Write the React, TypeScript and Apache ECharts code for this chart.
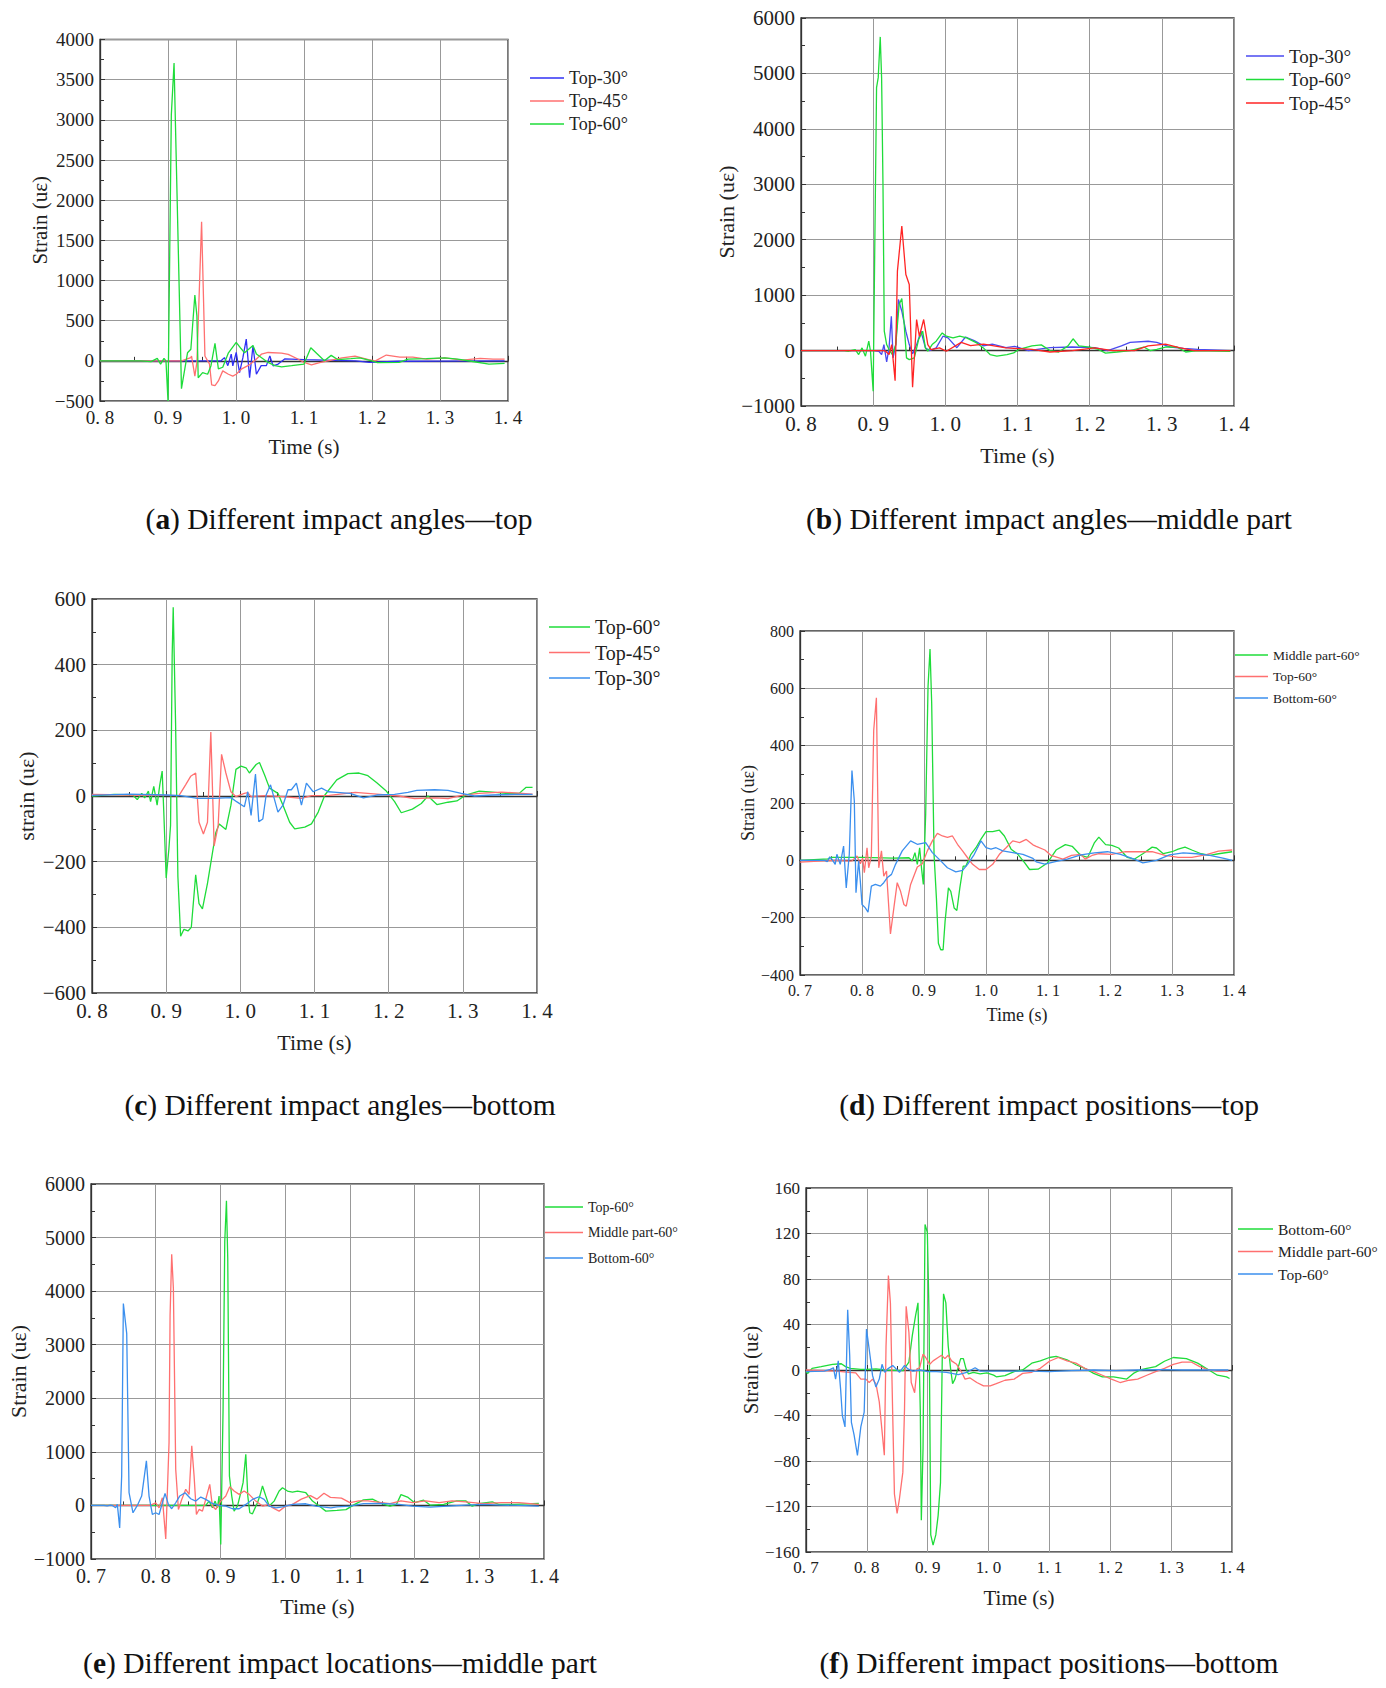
import { useEffect, useRef } from "react";
import * as echarts from "echarts";

type Pt = [number, number];

// (a) Different impact angles — top
const aTop30: Pt[] = [[0.8,0],[0.9,0],[0.978,0],[0.983,40],[0.988,-60],[0.993,83],[0.9953,-62],[1.0003,104],[1.0052,-146],[1.0102,42],[1.0151,270],[1.02,-210],[1.025,188],[1.03,-167],[1.037,-60],[1.0447,-60],[1.0497,62],[1.0546,-62],[1.062,-40],[1.072,25],[1.1,14],[1.176,0],[1.196,-18],[1.24,-5],[1.3,-3],[1.395,0]];
const aTop45: Pt[] = [[0.8,0],[0.92,0],[0.9336,40],[0.9346,60],[0.9395,-190],[0.9425,-20],[0.9494,1730],[0.9543,60],[0.9583,0],[0.961,-40],[0.9642,-300],[0.9691,-310],[0.9741,-250],[0.9805,-125],[0.9889,-167],[0.9953,-190],[1.0003,-167],[1.0077,-104],[1.0176,-60],[1.0274,0],[1.0373,83],[1.0472,104],[1.067,96],[1.0768,80],[1.0917,20],[1.1,-20],[1.111,-50],[1.123,-22],[1.156,36],[1.175,58],[1.195,14],[1.205,0],[1.221,72],[1.241,45],[1.26,45],[1.28,22],[1.307,36],[1.333,10],[1.359,30],[1.378,22],[1.395,22]];
const aTop60: Pt[] = [[0.8,0],[0.86,0],[0.875,-10],[0.8842,30],[0.8891,-40],[0.8941,30],[0.897,0],[0.9,-500],[0.9049,3063],[0.9089,3708],[0.9198,-346],[0.9287,100],[0.9336,145],[0.9395,820],[0.9425,560],[0.9444,-210],[0.9509,-146],[0.9583,-167],[0.9632,-60],[0.9691,217],[0.9741,-100],[0.9805,-80],[0.9889,100],[1.0003,230],[1.0077,150],[1.0126,100],[1.025,190],[1.03,85],[1.0472,-20],[1.0571,-60],[1.067,-75],[1.0818,-60],[1.1,-40],[1.11,162],[1.13,0],[1.14,68],[1.15,14],[1.169,27],[1.182,36],[1.2,0],[1.208,-22],[1.24,-18],[1.253,22],[1.28,27],[1.307,36],[1.326,22],[1.346,-5],[1.372,-40],[1.395,-31]];

// (b) Different impact angles — middle part
const bTop30: Pt[] = [[0.8,0],[0.88,0],[0.9009,0],[0.9079,-12],[0.9117,-72],[0.9149,108],[0.9187,-205],[0.922,48],[0.9252,620],[0.9276,-132],[0.9313,108],[0.935,921],[0.9397,710],[0.9453,349],[0.95,108],[0.9546,-60],[0.9602,108],[0.9663,349],[0.9724,48],[0.978,0],[0.9873,48],[0.9967,259],[1.0037,229],[1.016,52],[1.028,245],[1.04,180],[1.053,84],[1.065,116],[1.084,52],[1.096,77],[1.115,0],[1.145,52],[1.176,64],[1.207,52],[1.225,0],[1.244,84],[1.256,148],[1.281,168],[1.293,148],[1.312,64],[1.33,39],[1.35,20],[1.395,0]];
const bTop60: Pt[] = [[0.8,0],[0.86,0],[0.8659,-12],[0.8752,18],[0.8799,-72],[0.8846,48],[0.8893,-102],[0.8939,169],[0.8963,-12],[0.9,-734],[0.9047,4744],[0.907,4924],[0.9098,5659],[0.9117,4924],[0.9136,2998],[0.9154,349],[0.9187,108],[0.922,18],[0.9266,-72],[0.9313,108],[0.936,831],[0.9397,939],[0.943,470],[0.9462,-132],[0.95,-163],[0.957,-132],[0.963,199],[0.9686,349],[0.9724,48],[0.9757,-12],[0.9817,108],[0.9873,169],[0.9957,319],[1.0013,259],[1.0107,229],[1.02,259],[1.0294,229],[1.0434,138],[1.0527,48],[1.062,-72],[1.0714,-102],[1.0854,-72],[1.0947,-42],[1.102,20],[1.12,84],[1.133,103],[1.145,0],[1.157,-26],[1.17,84],[1.177,213],[1.185,84],[1.2,64],[1.212,20],[1.222,-45],[1.238,-26],[1.256,0],[1.275,64],[1.284,0],[1.293,20],[1.305,64],[1.321,64],[1.333,-26],[1.349,0],[1.395,-13]];
const bTop45: Pt[] = [[0.8,0],[0.915,0],[0.9173,-12],[0.922,-72],[0.9257,108],[0.9304,-542],[0.9336,1433],[0.9397,2245],[0.9453,1373],[0.95,1192],[0.9546,-662],[0.9602,560],[0.964,259],[0.97,560],[0.9757,108],[0.9803,18],[0.992,48],[1.0013,-12],[1.022,148],[1.035,90],[1.053,116],[1.084,50],[1.12,20],[1.145,-26],[1.176,0],[1.207,50],[1.232,0],[1.262,0],[1.281,84],[1.305,116],[1.324,52],[1.345,0],[1.395,0]];

// (c) Different impact angles — bottom
const cTop60: Pt[] = [[0.8,0],[0.83,5],[0.855,3],[0.861,-11],[0.867,8],[0.871,-6],[0.876,15],[0.879,-17],[0.8833,29],[0.8878,-28],[0.8914,34],[0.8946,76],[0.8968,-49],[0.9,-250],[0.9036,-163],[0.9059,-90],[0.9081,428],[0.9095,575],[0.9127,221],[0.9158,-245],[0.9195,-427],[0.924,-406],[0.9294,-411],[0.9339,-400],[0.9398,-240],[0.9443,-328],[0.9489,-344],[0.9557,-266],[0.9624,-173],[0.967,-111],[0.9715,-85],[0.9805,-102],[0.9873,-28],[0.9941,81],[1.0009,91],[1.0077,86],[1.0122,70],[1.0213,96],[1.0258,102],[1.0326,65],[1.0394,24],[1.0507,8],[1.0575,-28],[1.0665,-80],[1.0733,-100],[1.0869,-95],[1.0959,-85],[1.105,-49],[1.114,3],[1.13,49],[1.145,68],[1.16,70],[1.172,62],[1.184,40],[1.196,17],[1.208,-17],[1.217,-51],[1.232,-40],[1.244,-23],[1.253,0],[1.265,-26],[1.28,-19],[1.292,-15],[1.304,3],[1.322,15],[1.34,12],[1.358,8],[1.376,8],[1.385,26],[1.394,26]];
const cTop45: Pt[] = [[0.8,5],[0.85,3],[0.9,2],[0.9172,1],[0.9262,34],[0.933,60],[0.9398,70],[0.9443,-80],[0.9502,-116],[0.9557,-80],[0.9602,195],[0.9647,-152],[0.9701,-90],[0.9747,127],[0.9805,70],[0.9873,13],[0.9941,-2],[1.0054,8],[1.01,10],[1.0145,-2],[1.0326,1],[1.0575,-2],[1.0824,-7],[1.0959,1],[1.12,2],[1.155,11],[1.184,6],[1.214,0],[1.235,-8],[1.262,-6],[1.28,-8],[1.298,2],[1.322,8],[1.352,12],[1.38,8],[1.394,6]];
const cTop30: Pt[] = [[0.8,2],[0.85,6],[0.9,3],[0.9195,1],[0.9421,-7],[0.9647,-7],[0.9873,-5],[0.9955,-18],[1.0054,-33],[1.01,13],[1.0145,-59],[1.0204,67],[1.0249,-78],[1.0303,-70],[1.0348,3],[1.0407,34],[1.0462,-12],[1.0507,-49],[1.0575,-28],[1.0643,19],[1.0688,19],[1.0756,39],[1.0824,-28],[1.0891,39],[1.0982,13],[1.1095,24],[1.1186,13],[1.13,11],[1.148,8],[1.166,-6],[1.184,3],[1.208,5],[1.226,11],[1.238,17],[1.262,19],[1.28,17],[1.298,8],[1.316,0],[1.34,3],[1.37,5],[1.394,5]];

// (d) Different impact positions — top
const dMiddle60: Pt[] = [[0.7,0],[0.745,5],[0.75,10],[0.8,10],[0.85,8],[0.8757,9],[0.8811,-2],[0.8854,27],[0.8892,-14],[0.893,44],[0.8962,-32],[0.8989,-84],[0.9027,161],[0.9065,606],[0.9097,737],[0.9124,548],[0.9162,21],[0.92,-131],[0.9232,-289],[0.927,-312],[0.9308,-312],[0.934,-213],[0.9394,-96],[0.9432,-108],[0.9486,-166],[0.953,-175],[0.9578,-96],[0.9632,-20],[0.9676,-20],[0.9757,21],[0.9838,44],[0.9919,74],[1.0,100],[1.0108,100],[1.0216,105],[1.0297,85],[1.0405,39],[1.0514,21],[1.0622,-8],[1.0703,-32],[1.084,-31],[1.099,-9],[1.113,36],[1.128,55],[1.139,49],[1.153,17],[1.164,10],[1.175,62],[1.182,81],[1.193,55],[1.203,52],[1.214,43],[1.228,10],[1.239,4],[1.253,23],[1.268,46],[1.275,43],[1.286,23],[1.3,30],[1.31,39],[1.321,46],[1.332,36],[1.347,23],[1.361,17],[1.375,23],[1.397,30]];
const dTop60: Pt[] = [[0.7,-6],[0.73,-3],[0.76,0],[0.78,-3],[0.7838,-2],[0.7919,15],[0.7973,-12],[0.8011,7],[0.8038,-43],[0.8081,44],[0.8108,-26],[0.8151,15],[0.8189,454],[0.8232,567],[0.827,-26],[0.8314,33],[0.8351,-55],[0.8395,-37],[0.8459,-257],[0.8514,-166],[0.8568,-78],[0.8622,-108],[0.8676,-154],[0.8714,-160],[0.8784,-84],[0.8892,-23],[0.8973,-12],[0.9054,33],[0.9135,68],[0.9216,94],[0.9297,85],[0.9378,80],[0.9459,85],[0.954,56],[0.9622,33],[0.9703,9],[0.9784,-14],[0.9892,-32],[1.0,-32],[1.0108,-14],[1.0216,21],[1.0324,44],[1.0432,68],[1.0541,62],[1.0649,73],[1.0757,54],[1.081,49],[1.095,36],[1.105,17],[1.124,4],[1.138,17],[1.153,21],[1.16,4],[1.171,17],[1.182,23],[1.203,21],[1.225,30],[1.246,30],[1.268,30],[1.289,17],[1.31,10],[1.332,10],[1.354,19],[1.375,32],[1.397,36]];
const dBottom60: Pt[] = [[0.7,0],[0.74,0],[0.744,-5],[0.748,12],[0.7514,4],[0.7568,-14],[0.7595,21],[0.7649,-14],[0.7703,50],[0.7746,-96],[0.7795,21],[0.7838,313],[0.7876,208],[0.7903,-113],[0.7946,-2],[0.7973,-73],[0.8,-154],[0.8054,-166],[0.8097,-181],[0.8151,-90],[0.8216,-84],[0.8297,-90],[0.8351,-78],[0.8405,-61],[0.8476,-49],[0.8541,-14],[0.8649,33],[0.8784,68],[0.8892,56],[0.9027,62],[0.9135,27],[0.927,-2],[0.9378,-26],[0.9513,-40],[0.9622,-35],[0.9703,-14],[0.9811,21],[0.9919,68],[1.0,44],[1.0081,39],[1.0162,44],[1.027,33],[1.0432,27],[1.0595,21],[1.0757,7],[1.081,-5],[1.095,-13],[1.11,-5],[1.131,4],[1.153,19],[1.175,26],[1.196,30],[1.217,21],[1.239,4],[1.253,-9],[1.275,0],[1.296,19],[1.318,26],[1.34,23],[1.361,17],[1.382,8],[1.397,0]];

// (e) Different impact locations — middle part
const eTop60: Pt[] = [[0.7,0],[0.85,0],[0.8773,0],[0.8825,81],[0.8876,-44],[0.8918,81],[0.8954,-44],[0.8979,175],[0.9005,-731],[0.9041,1800],[0.9067,4925],[0.9093,5688],[0.9113,4613],[0.9139,550],[0.9175,175],[0.9211,-106],[0.9263,-12],[0.9314,237],[0.935,425],[0.9392,956],[0.9423,175],[0.9454,-137],[0.9495,-156],[0.9572,50],[0.9608,175],[0.965,362],[0.9701,175],[0.9753,-12],[0.983,81],[0.9907,269],[0.9959,331],[1.0036,269],[1.0113,250],[1.0191,269],[1.032,237],[1.0423,81],[1.0526,-12],[1.0629,-106],[1.08,-91],[1.094,-78],[1.1075,20],[1.121,104],[1.135,117],[1.149,33],[1.162,-13],[1.172,20],[1.179,202],[1.19,150],[1.2,52],[1.214,98],[1.224,7],[1.245,20],[1.265,85],[1.279,85],[1.289,-13],[1.299,33],[1.32,65],[1.33,20],[1.354,20],[1.392,39]];
const eMiddle60: Pt[] = [[0.7,0],[0.79,0],[0.7948,19],[0.8,50],[0.8052,-44],[0.8103,144],[0.8155,-625],[0.8206,1175],[0.8222,3550],[0.8247,4688],[0.8273,4050],[0.8309,675],[0.8351,-75],[0.8402,112],[0.8464,300],[0.8516,206],[0.8557,1112],[0.8593,550],[0.8629,-169],[0.867,-75],[0.8722,-106],[0.8773,112],[0.8835,394],[0.8876,-12],[0.8928,-75],[0.9005,81],[0.9083,175],[0.9144,350],[0.9211,269],[0.9289,206],[0.9366,269],[0.9443,206],[0.9546,81],[0.965,-12],[0.9753,19],[0.9804,-44],[0.9907,-106],[1.001,-12],[1.0113,19],[1.025,117],[1.039,182],[1.049,117],[1.06,228],[1.07,150],[1.087,137],[1.1,52],[1.114,85],[1.128,85],[1.149,52],[1.162,33],[1.179,85],[1.197,52],[1.217,85],[1.238,52],[1.258,85],[1.279,65],[1.306,33],[1.334,52],[1.361,52],[1.392,20]];
const eBottom60: Pt[] = [[0.7,0],[0.72,0],[0.725,-10],[0.73,5],[0.733,0],[0.7381,-44],[0.7407,19],[0.7443,-419],[0.7474,550],[0.75,3769],[0.7552,3206],[0.7588,237],[0.7649,-137],[0.7716,0],[0.7783,175],[0.7856,831],[0.7897,175],[0.7948,-169],[0.8,-137],[0.8052,-169],[0.8103,50],[0.8144,225],[0.8196,19],[0.8247,-62],[0.8309,50],[0.8371,175],[0.8454,237],[0.8541,125],[0.8619,81],[0.8696,156],[0.8773,112],[0.8876,37],[0.8979,0],[0.9083,-12],[0.9186,-62],[0.9289,-62],[0.9392,19],[0.9495,112],[0.9598,162],[0.9675,112],[0.9753,-12],[0.9856,-44],[0.9959,-25],[1.0113,19],[1.032,31],[1.0474,-12],[1.0706,-44],[1.08,-26],[1.1,-13],[1.121,33],[1.149,39],[1.176,20],[1.197,-13],[1.224,-33],[1.251,-13],[1.279,7],[1.306,20],[1.334,7],[1.361,0],[1.392,-13]];

// (f) Different impact positions — bottom
const fBottom60: Pt[] = [[0.7,-1.5],[0.703,-3],[0.71,1.5],[0.725,3],[0.7436,5],[0.758,5.5],[0.765,3],[0.7727,1.5],[0.79,0.5],[0.8,0.5],[0.815,1],[0.83,0],[0.86,-0.5],[0.8619,1.5],[0.8691,7],[0.8746,30],[0.8801,48],[0.884,59],[0.8878,-36],[0.8895,-132],[0.8923,-69],[0.8956,128],[0.8994,121],[0.9022,48],[0.905,-145],[0.9088,-154],[0.9133,-145],[0.9171,-128],[0.921,-99],[0.9238,7],[0.926,67],[0.9298,59],[0.9337,21],[0.9376,1],[0.9409,-12],[0.9448,-8],[0.9486,-0.5],[0.9541,10],[0.9586,10],[0.963,1],[0.9669,-3.5],[0.9751,-2],[0.9862,-3.5],[0.9972,-2.5],[1.0083,-4.5],[1.0127,-6],[1.027,-5],[1.042,-1.5],[1.056,0],[1.071,6],[1.085,8],[1.1,11],[1.111,12],[1.129,9],[1.1436,4.6],[1.158,1.5],[1.1727,-3],[1.187,-6],[1.2055,-6],[1.227,-8],[1.238,-3],[1.249,0],[1.26,1.5],[1.2745,3],[1.289,7.7],[1.3036,11],[1.325,10],[1.3436,6],[1.362,0],[1.376,-4.6],[1.391,-6],[1.396,-7.5]];
const fMiddle60: Pt[] = [[0.7,0],[0.75,-1],[0.7707,-2],[0.7818,-2.5],[0.7901,-8],[0.7983,-8],[0.8039,-11],[0.8094,-8],[0.8149,-12],[0.8204,-28],[0.8287,-75],[0.8315,21],[0.8354,83],[0.8387,59],[0.8425,-40],[0.8453,-109],[0.8497,-126],[0.8536,-113],[0.8591,-90],[0.8619,-34],[0.8646,56],[0.8691,33],[0.8729,-11],[0.8785,-20],[0.8823,1],[0.8867,2],[0.8923,14],[0.8967,11],[0.9033,5],[0.9088,8],[0.9171,11],[0.9227,13],[0.9282,10],[0.9337,13],[0.9392,8],[0.9475,5],[0.9558,-2],[0.9613,-8],[0.9696,-7],[0.9807,-11],[0.9917,-14],[1.0028,-14],[1.0127,-12],[1.027,-9],[1.042,-8],[1.056,-3],[1.071,-2],[1.085,1.5],[1.1,7.7],[1.1145,11],[1.129,8],[1.1436,6],[1.158,1.5],[1.1727,-1.5],[1.187,-4.6],[1.2018,-8],[1.216,-11],[1.231,-9],[1.245,-8],[1.26,-4.6],[1.2745,-1.5],[1.289,1.5],[1.3036,5],[1.318,7],[1.333,7],[1.347,3],[1.362,0],[1.376,-1],[1.394,-1]];
const fTop60: Pt[] = [[0.7,-1.5],[0.73,-1],[0.74,0.5],[0.745,2],[0.7486,-8],[0.753,8],[0.7569,-17],[0.7597,-40],[0.7641,-50],[0.7685,53],[0.7718,13],[0.7746,-46],[0.779,-57],[0.7845,-75],[0.7901,-50],[0.7956,-37],[0.7994,36],[0.8039,18],[0.8094,-5],[0.8149,-15],[0.8204,-8],[0.8249,5],[0.8293,-2],[0.8343,1],[0.8425,4],[0.8481,1],[0.8536,-2],[0.8619,4],[0.8674,1],[0.8757,-1],[0.8867,0],[0.9006,-1.5],[0.9144,-1.5],[0.9309,-2],[0.9503,-4],[0.9641,-2],[0.9779,2],[0.9862,-1],[1.0028,-1],[1.027,-1],[1.064,-1],[1.1,-1.5],[1.136,-0.5],[1.173,0],[1.209,-0.5],[1.245,0],[1.282,0.3],[1.318,0],[1.354,0],[1.394,0]];

const GREEN = "#1fdc3a";
const RED = "#ff7070";
const DEEP_RED = "#ff2424";
const BLUE = "#3b8fee";
const DEEP_BLUE = "#3030f5";
const FONT = "'Liberation Serif', 'Times New Roman', serif";

type Line = { name: string; data: Pt[]; color: string };
type Panel = {
  key: string;
  box: [number, number, number, number]; // left, top, width, height
  x: [number, number];
  y: [number, number, number]; // min, max, step
  tick: number;
  title: number;
  xGap: number;
  yGap: number;
  yName: string;
  legend: { left: number; top: number; font: number; w: number; gap: number };
  caption: { x: number; y: number; letter: string; text: string };
  lines: Line[];
};

const panels: Panel[] = [
  {
    key: "a", box: [100, 39.5, 408, 361.5], x: [0.8, 1.4], y: [-500, 4000, 500],
    tick: 19, title: 21, xGap: 35, yGap: 50, yName: "Strain (uε)",
    legend: { left: 530, top: 69, font: 18, w: 34, gap: 5 },
    caption: { x: 339, y: 519, letter: "a", text: ") Different impact angles—top" },
    lines: [
      { name: "Top-30°", data: aTop30, color: DEEP_BLUE },
      { name: "Top-45°", data: aTop45, color: RED },
      { name: "Top-60°", data: aTop60, color: GREEN },
    ],
  },
  {
    key: "b", box: [801, 18, 433, 388], x: [0.8, 1.4], y: [-1000, 6000, 1000],
    tick: 21, title: 22, xGap: 38, yGap: 58, yName: "Strain (uε)",
    legend: { left: 1246, top: 46.5, font: 19, w: 38, gap: 4.5 },
    caption: { x: 1049, y: 519, letter: "b", text: ") Different impact angles—middle part" },
    lines: [
      { name: "Top-30°", data: bTop30, color: "#4a4af0" },
      { name: "Top-60°", data: bTop60, color: GREEN },
      { name: "Top-45°", data: bTop45, color: DEEP_RED },
    ],
  },
  {
    key: "c", box: [92, 599, 445, 394], x: [0.8, 1.4], y: [-600, 600, 200],
    tick: 21, title: 22, xGap: 38, yGap: 55, yName: "strain (uε)",
    legend: { left: 549, top: 617, font: 20, w: 41, gap: 5.5 },
    caption: { x: 340, y: 1105, letter: "c", text: ") Different impact angles—bottom" },
    lines: [
      { name: "Top-60°", data: cTop60, color: GREEN },
      { name: "Top-45°", data: cTop45, color: RED },
      { name: "Top-30°", data: cTop30, color: BLUE },
    ],
  },
  {
    key: "d", box: [800, 631, 434, 344], x: [0.7, 1.4], y: [-400, 800, 200],
    tick: 16, title: 18, xGap: 31, yGap: 37, yName: "Strain (uε)",
    legend: { left: 1235, top: 648, font: 13.5, w: 33, gap: 7.5 },
    caption: { x: 1049, y: 1105, letter: "d", text: ") Different impact positions—top" },
    lines: [
      { name: "Middle part-60°", data: dMiddle60, color: GREEN },
      { name: "Top-60°", data: dTop60, color: RED },
      { name: "Bottom-60°", data: dBottom60, color: BLUE },
    ],
  },
  {
    key: "e", box: [91, 1184, 453, 375], x: [0.7, 1.4], y: [-1000, 6000, 1000],
    tick: 20, title: 22, xGap: 36, yGap: 52, yName: "Strain (uε)",
    legend: { left: 545, top: 1200, font: 14, w: 38, gap: 11.5 },
    caption: { x: 340, y: 1663, letter: "e", text: ") Different impact locations—middle part" },
    lines: [
      { name: "Top-60°", data: eTop60, color: GREEN },
      { name: "Middle part-60°", data: eMiddle60, color: RED },
      { name: "Bottom-60°", data: eBottom60, color: BLUE },
    ],
  },
  {
    key: "f", box: [806, 1188, 426, 364], x: [0.7, 1.4], y: [-160, 160, 40],
    tick: 17, title: 21, xGap: 35, yGap: 42, yName: "Strain (uε)",
    legend: { left: 1238, top: 1221, font: 15.5, w: 35, gap: 6.5 },
    caption: { x: 1049, y: 1663, letter: "f", text: ") Different impact positions—bottom" },
    lines: [
      { name: "Bottom-60°", data: fBottom60, color: GREEN },
      { name: "Middle part-60°", data: fMiddle60, color: RED },
      { name: "Top-60°", data: fTop60, color: BLUE },
    ],
  },
];

const xFmt = (v: number) => v.toFixed(1).replace(".", ". ");
const yFmt = (v: number) => (v < 0 ? `−${Math.abs(v)}` : `${v}`);

export default function App() {
  const hostRef = useRef<HTMLDivElement>(null);

  useEffect(() => {
    const el = hostRef.current;
    if (!el) return;
    const chart = echarts.init(el, undefined, { renderer: "svg" });

    const grid: any[] = [];
    const xAxis: any[] = [];
    const yAxis: any[] = [];
    const legend: any[] = [];
    const series: any[] = [];
    const graphic: any[] = [];

    panels.forEach((p, i) => {
      const [left, top, width, height] = p.box;
      grid.push({ left, top, width, height, show: true, borderColor: "#333", borderWidth: 1.3, backgroundColor: "#fff" });
      xAxis.push({
        gridIndex: i, type: "value", min: p.x[0], max: p.x[1], interval: 0.1,
        name: "Time (s)", nameLocation: "middle", nameGap: p.xGap,
        nameTextStyle: { fontFamily: FONT, fontSize: p.title, color: "#222" },
        axisLine: { lineStyle: { color: "#333", width: 1.3 } },
        axisTick: { inside: true, length: 5, lineStyle: { color: "#333" } },
        minorTick: { show: true, splitNumber: 2, length: 4, lineStyle: { color: "#333" } },
        splitLine: { show: true, lineStyle: { color: "#999", width: 1 } },
        axisLabel: { formatter: xFmt, fontFamily: FONT, fontSize: p.tick, color: "#222", margin: 7 },
      });
      yAxis.push({
        gridIndex: i, type: "value", min: p.y[0], max: p.y[1], interval: p.y[2],
        name: p.yName, nameLocation: "middle", nameGap: p.yGap,
        nameTextStyle: { fontFamily: FONT, fontSize: p.title, color: "#222" },
        axisLine: { show: true, lineStyle: { color: "#333", width: 1.3 } },
        axisTick: { inside: true, length: 5, lineStyle: { color: "#333" } },
        minorTick: { show: true, splitNumber: 2, length: 4, lineStyle: { color: "#333" } },
        splitLine: { show: true, lineStyle: { color: "#999", width: 1 } },
        axisLabel: { formatter: yFmt, fontFamily: FONT, fontSize: p.tick, color: "#222", margin: 6 },
      });
      const names = p.lines.map((l) => `${p.key}:${l.name}`);
      legend.push({
        orient: "vertical", left: p.legend.left, top: p.legend.top,
        itemWidth: p.legend.w, itemHeight: 1.6, itemGap: p.legend.gap, icon: "rect",
        selectedMode: false, padding: 0,
        formatter: (n: string) => n.slice(2),
        textStyle: { fontFamily: FONT, fontSize: p.legend.font, color: "#222" },
        data: names,
      });
      p.lines.forEach((l, j) => {
        series.push({
          name: names[j], type: "line", xAxisIndex: i, yAxisIndex: i,
          data: l.data, symbol: "none", showSymbol: false, clip: true,
          lineStyle: { color: l.color, width: 1.3 }, itemStyle: { color: l.color },
        });
      });
      graphic.push({
        type: "text", x: p.caption.x, y: p.caption.y,
        style: {
          text: `{n|(}{b|${p.caption.letter}}{n|${p.caption.text}}`,
          align: "center", verticalAlign: "middle",
          textAlign: "center", textVerticalAlign: "middle",
          rich: {
            n: { fontFamily: FONT, fontSize: 29.5, fill: "#111", color: "#111" },
            b: { fontFamily: FONT, fontSize: 29.5, fontWeight: "bold", fill: "#111", color: "#111" },
          },
        },
      });
    });

    chart.setOption({
      animation: false,
      backgroundColor: "#fff",
      grid, xAxis, yAxis, legend, series, graphic,
    });

    return () => chart.dispose();
  }, []);

  return (
    <div
      ref={hostRef}
      style={{ position: "absolute", left: 0, top: 0, width: 1386, height: 1688, background: "#fff" }}
    />
  );
}
